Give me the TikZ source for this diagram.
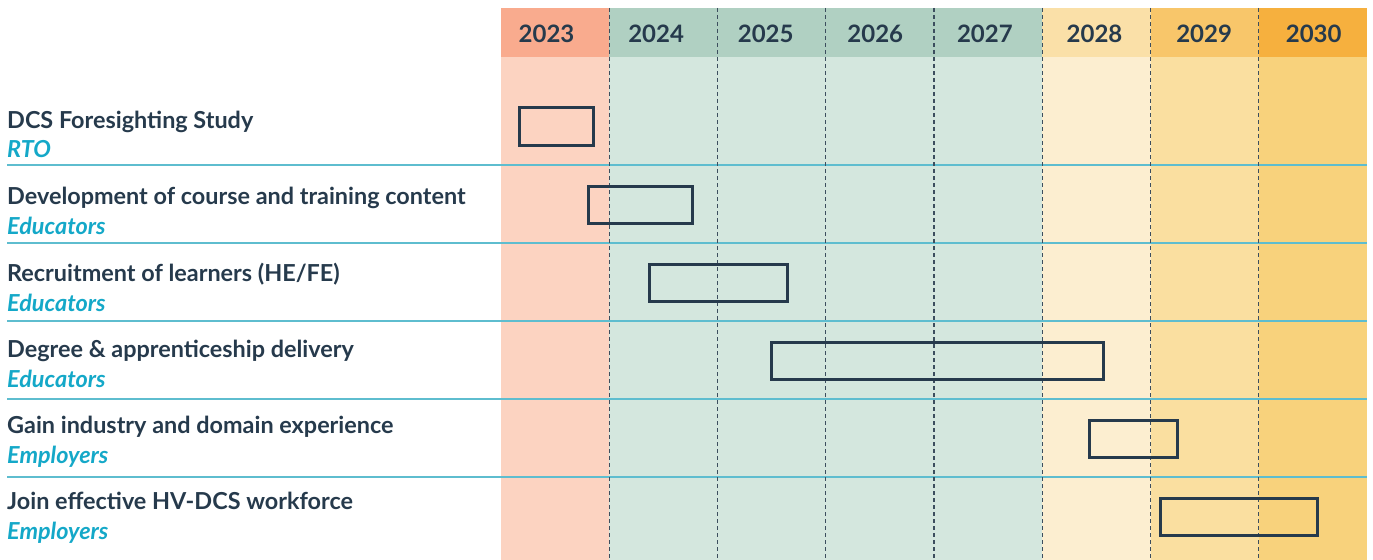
\documentclass[tikz,border=0pt]{standalone}
\usepackage{fontspec}
\setmainfont{Lato}
\usetikzlibrary{positioning}
\definecolor{ink}{HTML}{263A4C}
\definecolor{role}{HTML}{14A8C8}
\definecolor{rowrule}{HTML}{5EBDCF}
\definecolor{hA}{HTML}{F9AB8E}
\definecolor{bA}{HTML}{FCD3C1}
\definecolor{hB}{HTML}{B0D0C2}
\definecolor{bB}{HTML}{D4E7DE}
\definecolor{hC}{HTML}{FAE0A8}
\definecolor{bC}{HTML}{FCEED0}
\definecolor{hD}{HTML}{F8C66A}
\definecolor{bD}{HTML}{FADFA0}
\definecolor{hE}{HTML}{F6B03E}
\definecolor{bE}{HTML}{F8D27C}

\begin{document}
\begin{tikzpicture}[x=1bp, y=-1bp,
    yearlabel/.style={font=\bfseries\fontsize{24bp}{28bp}\selectfont, text=ink, inner sep=0pt},
    task/.style={anchor=base west, font=\bfseries\fontsize{23.4bp}{27bp}\selectfont, text=ink, inner sep=0pt},
    who/.style={anchor=base west, font=\bfseries\itshape\fontsize{23.4bp}{27bp}\selectfont, text=role, inner sep=0pt},
    bar/.style={draw=ink, line width=2.8bp, rectangle, inner sep=0pt, anchor=north west},
    yearline/.style={draw=ink!90, line width=1.3bp, dash pattern=on 4bp off 3bp},
    rowline/.style={draw=rowrule, line width=1.4bp}
]
    \useasboundingbox (0,0) rectangle (1373,560);

    % Year columns
    \foreach \i/\hc/\bc/\yr in {0/hA/bA/2023, 1/hB/bB/2024, 2/hB/bB/2025, 3/hB/bB/2026,
                                4/hB/bB/2027, 5/hC/bC/2028, 6/hD/bD/2029, 7/hE/bE/2030} {
        \fill[\bc] (501+108.25*\i, 57) rectangle ++(108.25, 503);
        \fill[\hc] (501+108.25*\i, 8) rectangle ++(108.25, 49);
        \node[yearlabel] (y\yr) at (546.5+109.6*\i, 33.5) {\yr};
    }

    % Row separators
    \foreach \r in {165, 243, 321, 399, 477}
        \draw[rowline] (7, \r) -- (1367, \r);

    % Year dividers
    \foreach \i in {1,...,7}
        \draw[yearline] (501+108.25*\i, 8) -- (501+108.25*\i, 560);

    % Tasks
    \node[task] (t1) at (7, 129) {DCS Foresighting Study};
    \node[who]  (r1) at (7, 158) {RTO};
    \node[task] (t2) at (7, 205) {Development of course and training content};
    \node[who]  (r2) at (7, 235) {Educators};
    \node[task] (t3) at (7, 281) {Recruitment of learners (HE/FE)};
    \node[who]  (r3) at (7, 311) {Educators};
    \node[task] (t4) at (7, 357) {Degree \& apprenticeship delivery};
    \node[who]  (r4) at (7, 387) {Educators};
    \node[task] (t5) at (7, 433) {Gain industry and domain experience};
    \node[who]  (r5) at (7, 463) {Employers};
    \node[task] (t6) at (7, 509) {Join effective HV-DCS workforce};
    \node[who]  (r6) at (7, 539) {Employers};

    % Bars
    \node[bar, minimum width=73.5bp, minimum height=37.5bp]  (bar1) at (518.4, 106.4) {};
    \node[bar, minimum width=103.5bp, minimum height=36.5bp] (bar2) at (587.4, 185.4) {};
    \node[bar, minimum width=137.5bp, minimum height=36.5bp] (bar3) at (648.4, 263.4) {};
    \node[bar, minimum width=331.5bp, minimum height=36.5bp] (bar4) at (770.4, 341.4) {};
    \node[bar, minimum width=87.5bp, minimum height=36.5bp]  (bar5) at (1088.4, 419.4) {};
    \node[bar, minimum width=156.5bp, minimum height=36.5bp] (bar6) at (1159.4, 497.4) {};
\end{tikzpicture}
\end{document}
